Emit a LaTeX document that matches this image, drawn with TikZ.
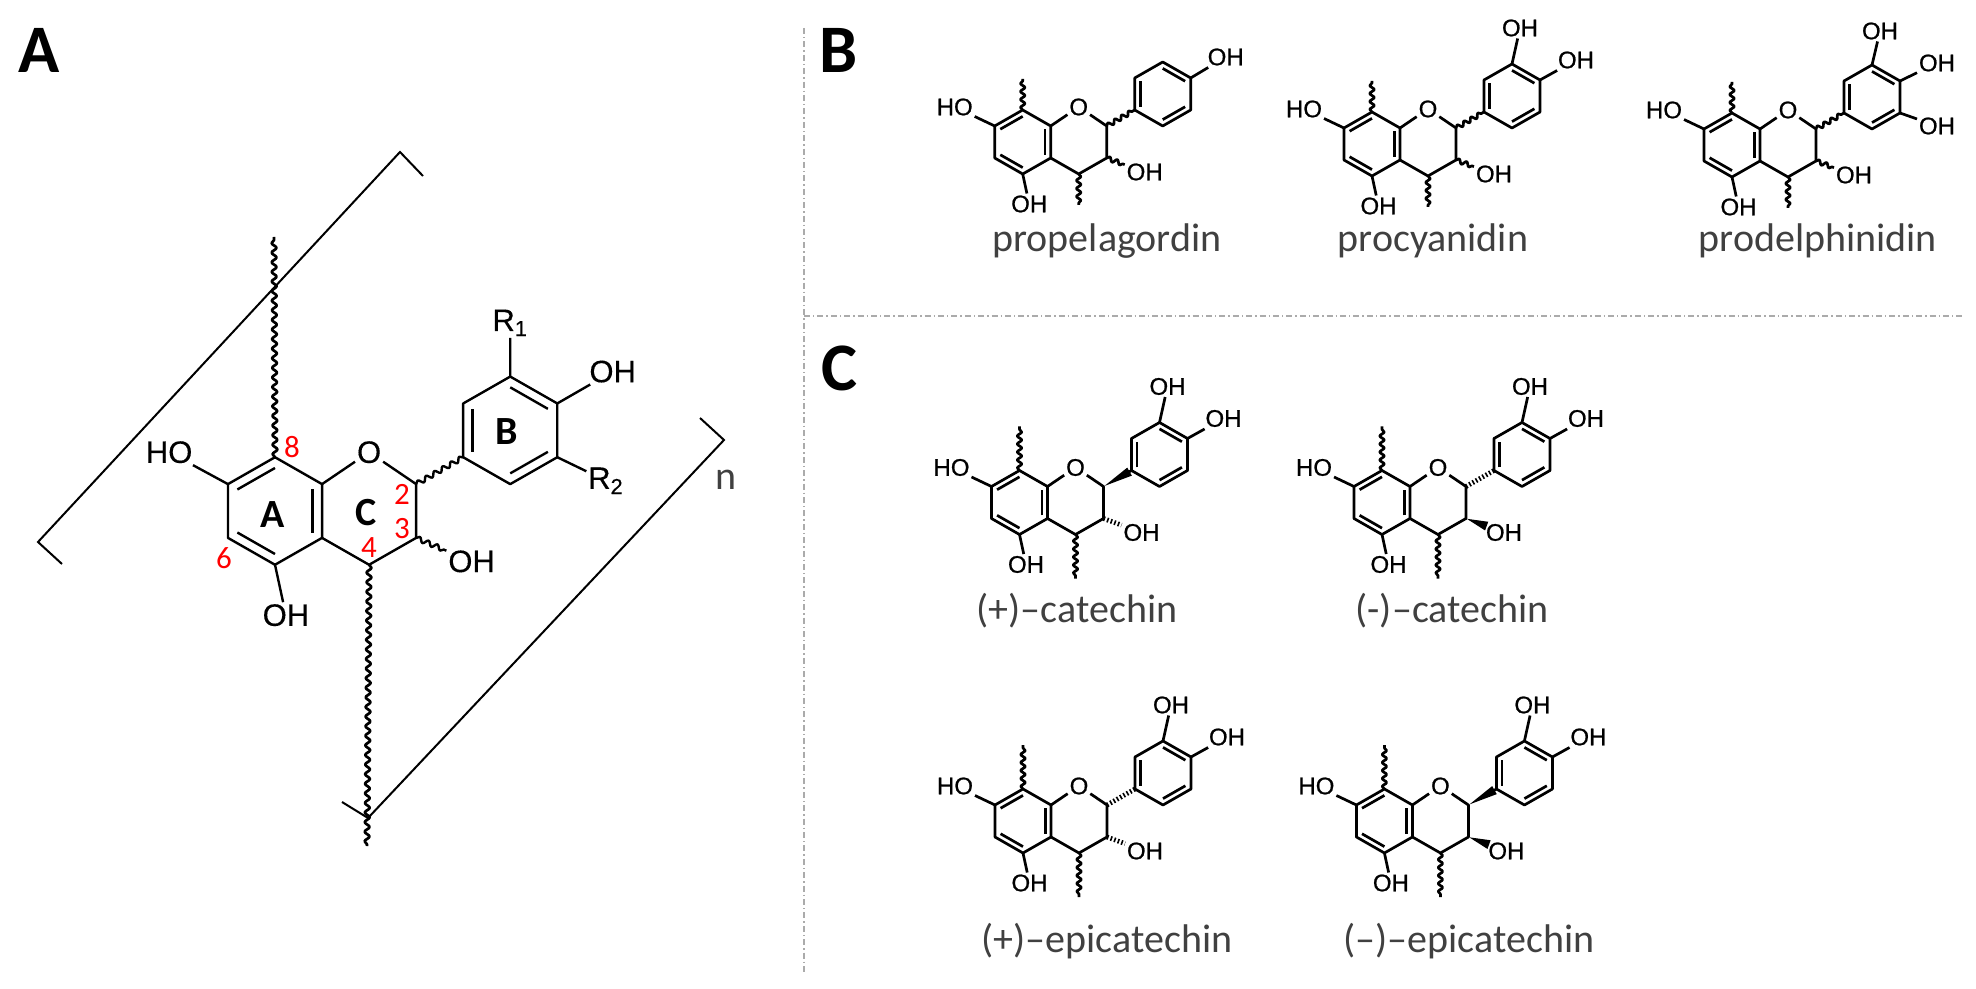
\documentclass[tikz,border=0pt]{standalone}
\usepackage{fontspec}
\setmainfont{Carlito}
\newfontfamily\chemfont{Liberation Sans}[FakeBold=0.8]
\newfontfamily\chembigfont{Liberation Sans}[FakeBold=0.3]
\usetikzlibrary{arrows.meta,calc,decorations.pathmorphing}

\definecolor{captiongray}{HTML}{404040}
\definecolor{rulegray}{HTML}{ABABAB}

\tikzset{
    bond/.style ={line width=1.35pt, line join=round},
    wavy/.style ={bond, decorate, decoration={snake, segment length=4pt, amplitude=1.1pt}},
    wedge/.style ={bond, {Triangle[length=#1, width=4.2pt]}-},
    hash/.style ={line width=2.4pt, dash pattern=on 0.8pt off 1.1pt},
    atom/.style ={font=\chemfont\fontsize{12}{12}\selectfont, inner sep=0.8pt},
    caption/.style ={font=\fontsize{20}{20}\selectfont, text=captiongray, anchor=base},
    panel/.style ={font=\bfseries\fontsize{34}{34}\selectfont},
    ringname/.style ={font=\bfseries\fontsize{20}{20}\selectfont},
    position/.style ={font=\fontsize{15.5}{15.5}\selectfont, text=red, inner sep=0pt},
    rule/.style ={rulegray, line width=0.8pt, dash pattern=on 3pt off 1.5pt on 0.7pt off 1.5pt}
}

% #1 name, #2 length of the wavy tails, #3 bond to ring B, #4 bond to the OH on C3
\newcommand{\flavan}[4]{
   \coordinate (#1A) at (0,0);
   \coordinate (#1a8) at (0,-32);
   \coordinate (#1a7) at (-28,-16);
   \coordinate (#1a6) at (-28,16);
   \coordinate (#1a5) at (0,32);
   \coordinate (#1a4) at (28,16);
   \coordinate (#1a3) at (28,-16);
   \coordinate (#1c2) at (84,-16);
   \coordinate (#1c3) at (84,16);
   \coordinate (#1c4) at (56,32);
   \coordinate (#1B) at (140,-48);
   \coordinate (#1b1) at (112,-32);
   \coordinate (#1b2) at (112,-64);
   \coordinate (#1b3) at (140,-80);
   \coordinate (#1b4) at (168,-64);
   \coordinate (#1b5) at (168,-32);
   \coordinate (#1b6) at (140,-16);
   \coordinate (#1top) at (0,-32-#2);
   \coordinate (#1tail) at (56,32+#2);
   \node[atom] (#1O) at (56,-35) {O};
   \node[atom, anchor=east] (#1HO) at (-48,-35) {HO};
   \node[atom] (#1OHa) at (6.5,62) {OH};
   \node[atom, anchor=west] (#1OHc) at (102,30) {OH};
   \draw[bond] (#1a3) -- (#1a8) -- (#1a7) -- (#1a6) -- (#1a5) -- (#1a4) -- (#1a3);
   \draw[bond] (#1a3) -- (#1O) -- (#1c2) -- (#1c3) -- (#1c4) -- (#1a4);
   \draw[bond] (#1b1) -- (#1b2) -- (#1b3) -- (#1b4) -- (#1b5) -- (#1b6) -- cycle;
   \foreach \u/\v in {a8/a7,a6/a5,a4/a3}
      \draw[bond] ($(#1A)!.8!(#1\u)$) -- ($(#1A)!.8!(#1\v)$);
   \foreach \u/\v in {b1/b2,b3/b4,b5/b6}
      \draw[bond] ($(#1B)!.8!(#1\u)$) -- ($(#1B)!.8!(#1\v)$);
   \draw[bond] (#1a7) -- (#1HO);
   \draw[bond] (#1a5) -- (#1OHa);
   \draw[#3] (#1c2) -- (#1b1);
   \draw[#4] (#1c3) -- (#1OHc);
}

\begin{document}
\begin{tikzpicture}[x=0.5pt, y=-0.5pt]
   \useasboundingbox (0,0) rectangle (1976,989);

   \coordinate (vtop) at (804,28);
   \coordinate (vbot) at (804,972);
   \coordinate (hleft) at (804,316);
   \coordinate (hright) at (1964,316);
   \draw[rule] (vtop) -- (vbot);
   \draw[rule] (hleft) -- (hright);

   \node[panel] (panelA) at (39,50) {A};
   \node[panel] (panelB) at (839,50) {B};
   \node[panel] (panelC) at (839,368) {C};

   % panel A
   \begin{scope}[shift={(275,511)}, scale=1.68,
       bond/.style ={line width=1.2pt, line join=round},
       atom/.style ={font=\chembigfont\fontsize{15.5}{15.5}\selectfont, inner sep=0.8pt},
       wavy/.style ={bond, decorate, decoration={snake, segment length=4.8pt, amplitude=1.2pt}}]
      \flavan{big}{0}{wavy}{wavy}
      \node[atom] (bigR1) at (140,-112) {R\textsubscript{1}};
      \node[atom] (bigOH) at (201,-83) {OH};
      \node[atom] (bigR2) at (197,-18) {R\textsubscript{2}};
      \draw[bond] (bigb3) -- (bigR1);
      \draw[bond] (bigb4) -- (bigOH);
      \draw[bond] (bigb5) -- (bigR2);
   \end{scope}
   \coordinate (bigtop) at (274,237);
   \coordinate (bigtail) at (367,846);
   \draw[wavy, decoration={segment length=4.8pt, amplitude=1.2pt}] (biga8) -- (bigtop);
   \draw[wavy, decoration={segment length=4.8pt, amplitude=1.2pt}] (bigc4) -- (bigtail);

   \node[ringname] (ringA) at (273,515) {A};
   \node[ringname] (ringC) at (366,513) {C};
   \node[ringname] (ringB) at (507,432) {B};
   \node[position] (pos8) at (292,447) {8};
   \node[position] (pos2) at (402,494) {2};
   \node[position] (pos3) at (402,529) {3};
   \node[position] (pos4) at (369,548) {4};
   \node[position] (pos6) at (224,558) {6};

   \coordinate (left1) at (400,152);
   \coordinate (left2) at (423,176);
   \coordinate (left3) at (38,542);
   \coordinate (left4) at (62,564);
   \coordinate (right1) at (700,418);
   \coordinate (right2) at (724,440);
   \coordinate (right3) at (368,818);
   \coordinate (right4) at (342,802);
   \draw[line width=1pt] (left2) -- (left1) -- (left3) -- (left4);
   \draw[line width=1pt] (right1) -- (right2) -- (right3) -- (right4);
   \node[caption, font=\fontsize{20}{20}\selectfont] (repeat) at (726,489) {n};

   % panel B
   \begin{scope}[shift={(1022.7,142)}]
      \flavan{pel}{31}{wavy}{wavy}
      \node[atom] (pelOH) at (203,-85) {OH};
      \draw[bond] (pelb4) -- (pelOH);
   \end{scope}
   \begin{scope}[shift={(1372,144)}]
      \flavan{cya}{31}{wavy}{wavy}
      \node[atom] (cyaOHa) at (148,-116) {OH};
      \node[atom] (cyaOHb) at (204,-84) {OH};
      \draw[bond] (cyab3) -- (cyaOHa);
      \draw[bond] (cyab4) -- (cyaOHb);
   \end{scope}
   \begin{scope}[shift={(1732,145)}]
      \flavan{del}{31}{wavy}{wavy}
      \node[atom] (delOHa) at (148,-114) {OH};
      \node[atom] (delOHb) at (205,-82) {OH};
      \node[atom] (delOHc) at (205,-19) {OH};
      \draw[bond] (delb3) -- (delOHa);
      \draw[bond] (delb4) -- (delOHb);
      \draw[bond] (delb5) -- (delOHc);
   \end{scope}
   \foreach \n in {pel,cya,del} {
      \draw[wavy] (\n a8) -- (\n top);
      \draw[wavy] (\n c4) -- (\n tail);
   }
   \node[caption] (pelname) at (1107,252) {propelagordin};
   \node[caption] (cyaname) at (1433,252) {procyanidin};
   \node[caption] (delname) at (1818,252) {prodelphinidin};

   % panel C
   \begin{scope}[shift={(1019.5,502.5)}]
      \flavan{cp}{44}{wedge=15pt}{hash}
      \node[atom] (cpOHa) at (148,-116) {OH};
      \node[atom] (cpOHb) at (204,-84) {OH};
      \draw[bond] (cpb3) -- (cpOHa);
      \draw[bond] (cpb4) -- (cpOHb);
   \end{scope}
   \begin{scope}[shift={(1382,502.5)}]
      \flavan{cm}{44}{hash}{wedge=11pt}
      \node[atom] (cmOHa) at (148,-116) {OH};
      \node[atom] (cmOHb) at (204,-84) {OH};
      \draw[bond] (cmb3) -- (cmOHa);
      \draw[bond] (cmb4) -- (cmOHb);
   \end{scope}
   \begin{scope}[shift={(1023,821)}]
      \flavan{ep}{44}{hash}{hash}
      \node[atom] (epOHa) at (148,-116) {OH};
      \node[atom] (epOHb) at (204,-84) {OH};
      \draw[bond] (epb3) -- (epOHa);
      \draw[bond] (epb4) -- (epOHb);
   \end{scope}
   \begin{scope}[shift={(1384.4,821)}]
      \flavan{em}{44}{wedge=15pt}{wedge=11pt}
      \node[atom] (emOHa) at (148,-116) {OH};
      \node[atom] (emOHb) at (204,-84) {OH};
      \draw[bond] (emb3) -- (emOHa);
      \draw[bond] (emb4) -- (emOHb);
   \end{scope}
   \foreach \n in {cp,cm,ep,em} {
      \draw[wavy] (\n a8) -- (\n top);
      \draw[wavy] (\n c4) -- (\n tail);
   }
   \node[caption] (cpname) at (1077,622) {(+)--catechin};
   \node[caption] (cmname) at (1452,622) {(-)--catechin};
   \node[caption] (epname) at (1107,952) {(+)--epicatechin};
   \node[caption] (emname) at (1469,952) {(--)--epicatechin};
\end{tikzpicture}
\end{document}
